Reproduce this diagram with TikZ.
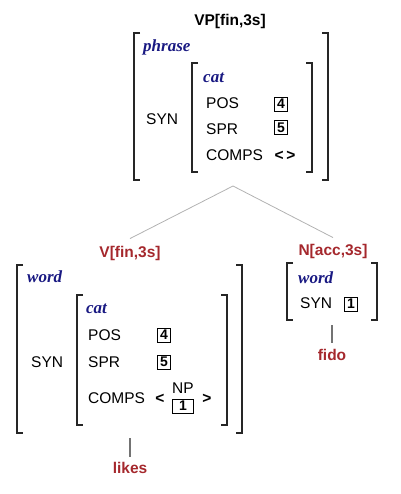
\documentclass[tikz,border=0pt]{standalone}
\usepackage{fontspec}
\setmainfont{Liberation Sans}
\newfontfamily\tyfont{Liberation Serif}
\definecolor{hred}{RGB}{165,40,45}
\definecolor{hblue}{RGB}{25,25,130}
\newcommand\hpsgL[3]{\draw[brk] (#1+6,#2) -- (#1,#2) -- (#1,#3) -- (#1+6,#3);}
\newcommand\hpsgR[3]{\draw[brk] (#1-6,#2) -- (#1,#2) -- (#1,#3) -- (#1-6,#3);}
\begin{document}
\begin{tikzpicture}[x=1pt,y=-1pt,
  lab/.style={anchor=base west,inner sep=0pt,font=\fontsize{15.5}{18}\selectfont},
  typ/.style={anchor=base west,inner sep=0pt,font=\fontsize{17}{20}\selectfont\tyfont\bfseries\itshape,text=hblue},
  title/.style={anchor=base,inner sep=0pt,font=\fontsize{15.5}{18}\selectfont\bfseries},
  redlab/.style={title,text=hred},
  angle/.style={anchor=base,inner sep=0pt,font=\fontsize{15.5}{18}\selectfont\bfseries},
  tag/.style={draw,line width=0.9pt,inner sep=0pt,minimum width=13pt,minimum height=14pt,font=\fontsize{14}{16}\selectfont\bfseries},
  widetag/.style={tag,minimum width=21pt},
  brk/.style={line width=1.1pt,black!85},
  tree/.style={line width=0.8pt,gray!60},
  stem/.style={line width=1.1pt,gray!90!black}]
\useasboundingbox (0,0) rectangle (400,494);

% ---------- top: VP ----------
\node[title] (vp) at (230,26) {VP[fin,3s]};
\hpsgL{134}{33}{180}
\hpsgR{328}{33}{180}
\node[typ] (tphrase) at (143,52) {phrase};
\node[lab] (tsyn) at (146,125) {SYN};
\hpsgL{192}{63}{172}
\hpsgR{312}{63}{172}
\node[typ] (tcat) at (203,83) {cat};
\node[lab] (tpos) at (206,109) {POS};
\node[lab] (tspr) at (206,135) {SPR};
\node[lab] (tcomps) at (206,161) {COMPS};
\node[tag] (t4) at (281,104) {4};
\node[tag] (t5) at (281,127.5) {5};
\node[angle] (tempty) at (285,161) {<\,>};
\coordinate (apex) at (233,186);

% ---------- left: V ----------
\node[redlab] (vlab) at (130,257) {V[fin,3s]};
\hpsgL{17}{265}{433}
\hpsgR{242}{265}{433}
\node[typ] (lword) at (27,282) {word};
\node[lab] (lsyn) at (31,367) {SYN};
\hpsgL{77}{295}{425}
\hpsgR{227}{295}{425}
\node[typ] (lcat) at (86,313) {cat};
\node[lab] (lpos) at (88,340) {POS};
\node[lab] (lspr) at (88,367) {SPR};
\node[lab] (lcomps) at (88,403) {COMPS};
\node[tag] (l4) at (164,335) {4};
\node[tag] (l5) at (164,362) {5};
\node[angle] (lopen) at (160,403) {<};
\node[lab,anchor=base] (lnp) at (183,393) {NP};
\node[widetag] (l1) at (183,406) {1};
\node[angle] (lclose) at (207,403) {>};
\coordinate (vbot) at (130,433);
\node[redlab] (likes) at (130,473) {likes};

% ---------- right: N ----------
\node[redlab] (nlab) at (333,255) {N[acc,3s]};
\hpsgL{287}{263}{320}
\hpsgR{377}{263}{320}
\node[typ] (rword) at (298,283) {word};
\node[lab] (rsyn) at (300,308) {SYN};
\node[tag] (r1) at (351,304) {1};
\coordinate (nbot) at (332,318);
\node[redlab] (fido) at (332,360) {fido};

% ---------- connectors ----------
\draw[tree] (apex) -- ([yshift=7pt]vlab.north);
\draw[tree] (apex) -- ([yshift=6pt]nlab.north);
\draw[stem] ([yshift=-5pt]vbot) -- ([yshift=5pt]likes.north);
\draw[stem] ([yshift=-7pt]nbot) -- ([yshift=6pt]fido.north);
\end{tikzpicture}
\end{document}
